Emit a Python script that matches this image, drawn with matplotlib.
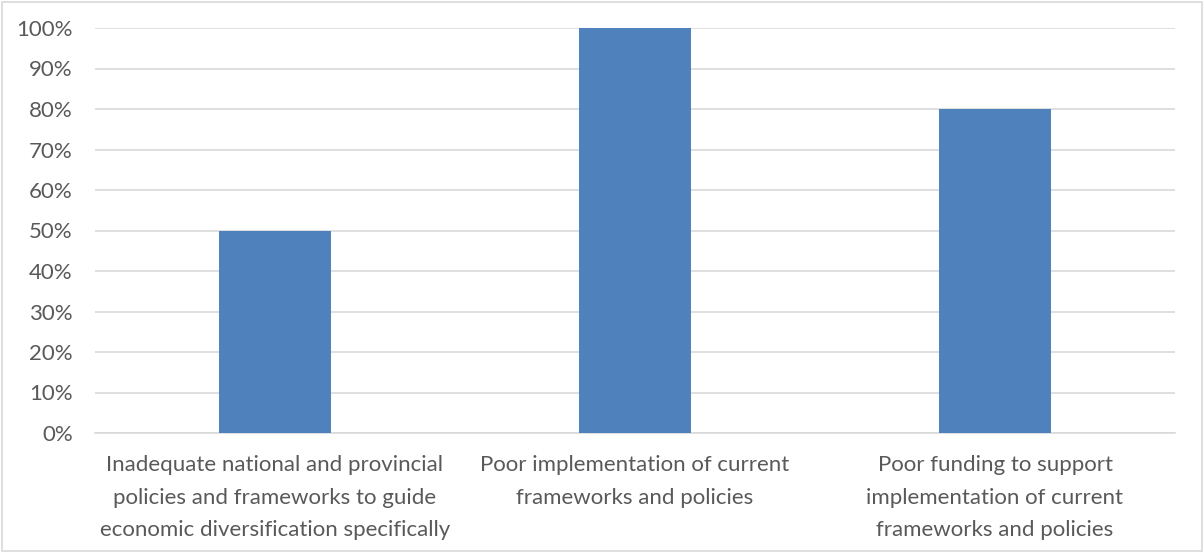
import matplotlib.pyplot as plt
from matplotlib.patches import Rectangle
from matplotlib.ticker import PercentFormatter

categories = [
    "Inadequate national and provincial\npolicies and frameworks to guide\neconomic diversification specifically",
    "Poor implementation of current\nframeworks and policies",
    "Poor funding to support\nimplementation of current\nframeworks and policies",
]
values = [50, 100, 80]
yticks = list(range(0, 101, 10))

plt.rcParams['font.family'] = ['Lato', 'DejaVu Sans']

fig = plt.figure(figsize=(12.04, 5.53), dpi=100)
ax = fig.add_axes([95 / 1204, 120 / 553, 1080 / 1204, 405 / 553])

ax.bar(range(len(values)), values, width=0.31, color='#4F81BD', zorder=3)

ax.set_xlim(-0.5, len(values) - 0.5)
ax.set_ylim(0, 100)
ax.set_yticks(yticks)
ax.yaxis.set_major_formatter(PercentFormatter(decimals=0))
ax.set_xticks(range(len(values)))
ax.set_xticklabels(categories, linespacing=1.78)
ax.grid(axis='y', color='#D9D9D9', linewidth=1.2, zorder=0)

for s in ['top', 'right', 'left']:
    ax.spines[s].set_visible(False)
ax.spines['bottom'].set_color('#D9D9D9')
ax.spines['bottom'].set_linewidth(1.2)
ax.tick_params(axis='both', length=0, labelsize=16, colors='#595959')
ax.tick_params(axis='x', pad=16)
ax.tick_params(axis='y', pad=16)

fig.patches.append(Rectangle((0.002, 0.004), 0.996, 0.992, transform=fig.transFigure,
                             fill=False, edgecolor='#D9D9D9', linewidth=1.2))

fig.savefig('out.png', dpi=100)
